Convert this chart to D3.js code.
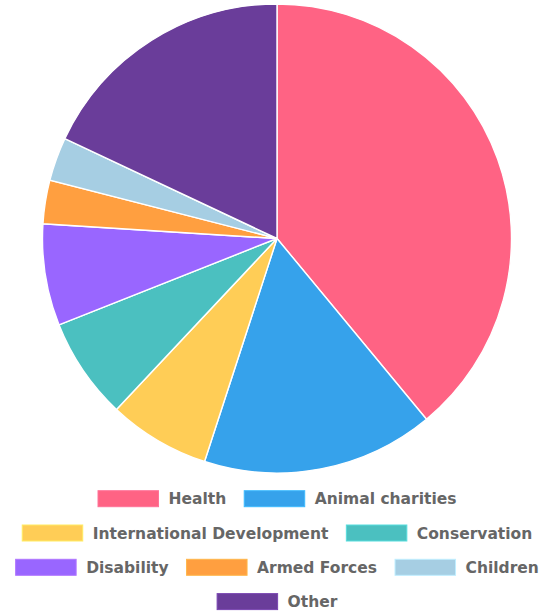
<!DOCTYPE html>
<html>
<head>
<meta charset="utf-8">
<script src="https://cdn.jsdelivr.net/npm/d3@7"></script>
<style>
  html, body { margin: 0; padding: 0; background: #fff; }
  svg { display: block; }
</style>
</head>
<body>
<svg id="chart" width="545" height="611"></svg>
<script>
// Share of giving by cause (%)
const categories = ["Health", "Animal charities", "International Development", "Conservation",
                    "Disability", "Armed Forces", "Children", "Other"];
const values = [39, 16, 7, 7, 7, 3, 3, 18];
const colors = ["#ff6384", "#36a2eb", "#ffcd56", "#4bc0c0",
                "#9966ff", "#ff9f40", "#a6cee3", "#6a3d9a"];

const W = 545, H = 611;
const svg = d3.select("#chart");

// Pie
const cx = 277, cy = 238.5, radius = 234.5;
const pie = d3.pie().sort(null).value(d => d.value);
const arc = d3.arc().innerRadius(0).outerRadius(radius);
const data = categories.map((c, i) => ({ name: c, value: values[i], color: colors[i] }));

svg.append("g")
  .attr("transform", `translate(${cx},${cy})`)
  .selectAll("path")
  .data(pie(data))
  .join("path")
  .attr("d", arc)
  .attr("fill", d => d.data.color)
  .attr("stroke", "#fff")
  .attr("stroke-width", 1.4);

// Legend: items wrap greedily into rows centred under the pie
const boxW = 61.5, boxH = 16, textGap = 9.5, itemGap = 17.5, rowH = 34.3, firstRowY = 498.7;
const maxRowW = 530, legendCx = 277;
const legend = svg.append("g").attr("class", "legend");

const items = data.map(d => {
  const g = legend.append("g");
  g.append("rect")
    .attr("x", 0.5)
    .attr("width", boxW - 1).attr("height", boxH)
    .attr("y", -boxH / 2)
    .attr("fill", d.color)
    .attr("stroke", d3.color(d.color).brighter(0.4))
    .attr("stroke-width", 1);
  const t = g.append("text")
    .attr("x", boxW + textGap)
    .attr("dy", "0.36em")
    .attr("font-family", "'DejaVu Sans', Verdana, sans-serif")
    .attr("font-size", 15.5)
    .attr("font-weight", "bold")
    .attr("fill", "#666")
    .text(d.name);
  const w = boxW + textGap + t.node().getComputedTextLength();
  return { g, w };
});

const rows = [];
let cur = [], curW = 0;
items.forEach(it => {
  const add = cur.length ? itemGap + it.w : it.w;
  if (cur.length && curW + add > maxRowW) {
    rows.push({ items: cur, w: curW });
    cur = [it]; curW = it.w;
  } else {
    cur.push(it); curW += add;
  }
});
if (cur.length) rows.push({ items: cur, w: curW });

rows.forEach((row, r) => {
  let x = legendCx - row.w / 2;
  const y = firstRowY + r * rowH;
  row.items.forEach(it => {
    it.g.attr("transform", `translate(${x},${y})`);
    x += it.w + itemGap;
  });
});
</script>
</body>
</html>
